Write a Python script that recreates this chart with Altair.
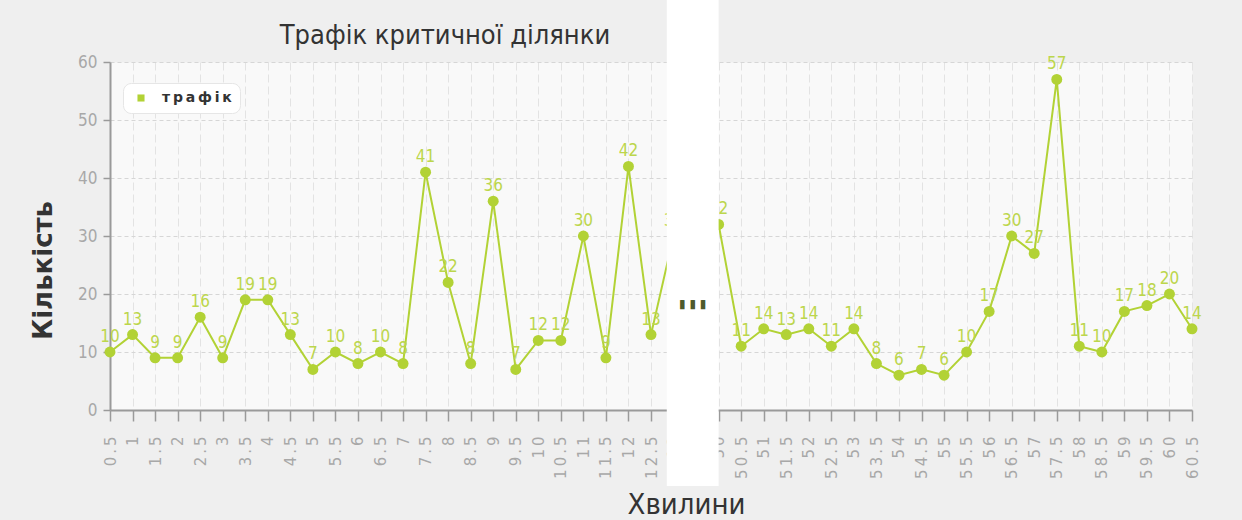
import altair as alt
import pandas as pd

# Traffic counts on the critical section, two observed stretches of the hour
minutes_early = [0.5, 1, 1.5, 2, 2.5, 3, 3.5, 4, 4.5, 5, 5.5, 6, 6.5,
                 7, 7.5, 8, 8.5, 9, 9.5, 10, 10.5, 11, 11.5, 12, 12.5, 13]
traffic_early = [10, 13, 9, 9, 16, 9, 19, 19, 13, 7, 10, 8, 10,
                 8, 41, 22, 8, 36, 7, 12, 12, 30, 9, 42, 13, 30]

minutes_late = [50, 50.5, 51, 51.5, 52, 52.5, 53, 53.5, 54, 54.5, 55,
                55.5, 56, 56.5, 57, 57.5, 58, 58.5, 59, 59.5, 60, 60.5]
traffic_late = [32, 11, 14, 13, 14, 11, 14, 8, 6, 7, 6,
                10, 17, 30, 27, 57, 11, 10, 17, 18, 20, 14]

y_ticks = [0, 10, 20, 30, 40, 50, 60]

SERIES = "трафік"
SHIFT = 36          # minutes skipped between the two stretches
CUT_FROM = 12.85    # axis position where the break begins
CUT_TO = 14.0       # axis position of minute 50 (50 - SHIFT)
CUT_LOW = -13.1     # break strip runs from below the tick labels ...
CUT_HIGH = 70.69    # ... up to the top edge of the canvas

GREEN = "#b2d235"
LABEL_GREEN = "#bcd64c"
COND = "DejaVu Sans Condensed, Liberation Sans Narrow, DejaVu Sans"
WIDE = "DejaVu Sans"

positions = minutes_early + [m - SHIFT for m in minutes_late]
df = pd.DataFrame({
    "pos": positions,
    "minute": minutes_early + minutes_late,
    "count": traffic_early + traffic_late,
    "series": SERIES,
})

band = pd.DataFrame({"x0": [CUT_FROM], "x1": [CUT_TO], "y0": [CUT_LOW], "y1": [CUT_HIGH]})
dots = pd.DataFrame({"x": [(CUT_FROM + CUT_TO) / 2], "y": [18.2], "t": ["▮  ▮  ▮"]})

label_expr = (
    f"join(split(format(datum.value > {CUT_TO - 0.5} ? datum.value + {SHIFT} : datum.value, ''), ''), '\u2009')"
)
legend_expr = "join(split(datum.label, ''), '\u2009') + '\u2002'"

x_scale = alt.Scale(domain=[0.5, 24.5], nice=False, zero=False)
y_scale = alt.Scale(domain=[0, 60], nice=False, zero=True)

x_axis = alt.Axis(
    values=positions, labelExpr=label_expr, labelAngle=-90,
    labelFont=WIDE, labelFontSize=15, labelColor="#a8a8a8",
    labelPadding=15, labelFlush=False, labelOverlap=False,
    tickSize=11, tickColor="#9a9a9a", tickWidth=1.5,
    domainColor="#9a9a9a", domainWidth=2,
    grid=True, gridColor="#e3e3e3", gridDash=[8, 4],
    title="Хвилини", titleFont=COND, titleFontSize=29, titleFontWeight="normal",
    titleColor="#333333", titleX=576, titleY=103, titleAlign="center",
    titleBaseline="alphabetic",
)
y_axis = alt.Axis(
    values=y_ticks, labelFont=COND, labelFontSize=17, labelColor="#a8a8a8",
    labelPadding=6, tickSize=7, tickColor="#9a9a9a", tickWidth=1.5,
    domainColor="#9a9a9a", domainWidth=2,
    grid=True, gridColor="#d6d6d6", gridDash=[4, 3],
    title="Кількість", titleFont=WIDE, titleFontSize=26, titleFontWeight="bold",
    titleColor="#333333", titleX=-67, titleY=208, titleAngle=270,
    titleAlign="center", titleBaseline="middle",
)

x_enc = alt.X("pos:Q", scale=x_scale, axis=x_axis)
y_enc = alt.Y("count:Q", scale=y_scale, axis=y_axis)

base = alt.Chart(df)

line = base.mark_line(color=GREEN, strokeWidth=2).encode(x=x_enc, y=y_enc)

points = base.mark_point(filled=True, size=120, opacity=1).encode(
    x=x_enc, y=y_enc,
    color=alt.Color(
        "series:N",
        scale=alt.Scale(domain=[SERIES], range=[GREEN]),
        legend=alt.Legend(
            title=None, orient="none", legendX=13, legendY=21,
            fillColor="white", strokeColor="#e6e6e6", cornerRadius=8, padding=8,
            symbolType="square", symbolSize=50, symbolStrokeWidth=0, symbolOffset=3,
            labelFont=WIDE, labelFontWeight="bold", labelFontSize=14,
            labelColor="#333333", labelOffset=14, labelExpr=legend_expr,
        ),
    ),
)

labels = base.mark_text(
    font=COND, fontSize=17, color=LABEL_GREEN, baseline="alphabetic", dy=-10
).encode(x=x_enc, y=y_enc, text=alt.Text("count:Q"))

gap = alt.Chart(band).mark_rect(color="white").encode(
    x=alt.X("x0:Q", scale=x_scale, axis=x_axis),
    x2="x1:Q",
    y=alt.Y("y0:Q", scale=y_scale, axis=y_axis),
    y2="y1:Q",
)

ellipsis = alt.Chart(dots).mark_text(
    font=WIDE, fontSize=12, color="#4e5a2c", baseline="middle", align="center"
).encode(
    x=alt.X("x:Q", scale=x_scale, axis=x_axis),
    y=alt.Y("y:Q", scale=y_scale, axis=y_axis),
    text="t:N",
)

chart = (
    alt.layer(line, points, labels, gap, ellipsis)
    .properties(
        width=1082, height=348,
        autosize=alt.AutoSizeParams(type="none"),
        padding={"left": 110, "top": 62, "right": 50, "bottom": 110},
        background="#efefef",
        title=alt.TitleParams(
            "Трафік критичної ділянки", font=COND, fontSize=27,
            fontWeight="normal", color="#333333", anchor="middle",
            frame="group", dx=-206, dy=71, offset=0, baseline="alphabetic",
        ),
    )
    .configure_view(fill="#f9f9f9", stroke="transparent")
)

chart.save("out.html", embed_options={"renderer": "svg", "actions": False})
